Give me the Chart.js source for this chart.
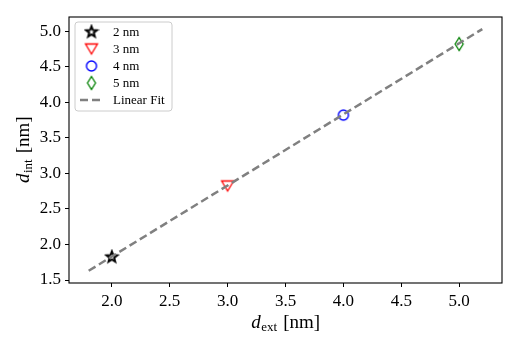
<!DOCTYPE html>
<html>
<head>
<meta charset="utf-8">
<script src="https://cdn.jsdelivr.net/npm/chart.js@4"></script>
<style>
  html, body { margin: 0; padding: 0; background: #fff; }
  #wrap { width: 519px; height: 346px; }
</style>
</head>
<body>
<div id="wrap"><canvas id="grafico"></canvas></div>
<script>
// datos
const etiquetas = ['2 nm', '3 nm', '4 nm', '5 nm'];
const dExt = [2, 3, 4, 5];
const dInt = [1.83, 2.83, 3.82, 4.82];
const ajusteX = [1.8, 5.2];
const ajusteY = [1.63, 5.03];
const ticksX = [2.0, 2.5, 3.0, 3.5, 4.0, 4.5, 5.0];
const ticksY = [1.5, 2.0, 2.5, 3.0, 3.5, 4.0, 4.5, 5.0];

const colores = ['#000000', '#ff0000', '#0000ff', '#008000'];
const SERIF = '"Liberation Serif", "DejaVu Serif", serif';
const DASH = [8, 4];

// marcadores tipo matplotlib
function crearMarcador(tipo, color) {
    const c = document.createElement('canvas');
    c.width = 16; c.height = 16;
    const ctx = c.getContext('2d');
    ctx.strokeStyle = color;
    ctx.lineJoin = 'miter';
    ctx.beginPath();
    if (tipo === 'star') {
        ctx.lineWidth = 2;
        for (let i = 0; i < 10; i++) {
            const r = i % 2 === 0 ? 5.6 : 2.4;
            const a = -Math.PI / 2 + i * Math.PI / 5;
            const px = 8 + r * Math.cos(a), py = 8.5 + r * Math.sin(a);
            if (i === 0) ctx.moveTo(px, py); else ctx.lineTo(px, py);
        }
    } else if (tipo === 'tri') {
        ctx.lineWidth = 1.3;
        ctx.moveTo(2, 3.5); ctx.lineTo(14, 3.5); ctx.lineTo(8, 13.5);
    } else if (tipo === 'circ') {
        ctx.lineWidth = 1.4;
        ctx.arc(8, 8, 5, 0, Math.PI * 2);
    } else {
        ctx.lineWidth = 1.3;
        ctx.moveTo(8, 1.5); ctx.lineTo(12, 8); ctx.lineTo(8, 14.5); ctx.lineTo(4, 8);
    }
    ctx.closePath();
    ctx.stroke();
    return c;
}

const marcadores = [
    crearMarcador('star', colores[0]),
    crearMarcador('tri', colores[1]),
    crearMarcador('circ', colores[2]),
    crearMarcador('diam', colores[3])
];

// titulo con subindice
function textoSub(ctx, base, sub, resto, cx, cy) {
    const fBig = 'italic 19px ' + SERIF;
    const fSub = '13px ' + SERIF;
    const fRest = '19px ' + SERIF;
    ctx.font = fBig; const w1 = ctx.measureText(base).width;
    ctx.font = fSub; const w2 = ctx.measureText(sub).width;
    ctx.font = fRest; const w3 = ctx.measureText(resto).width;
    const gap = 6;
    let x = cx - (w1 + w2 + gap + w3) / 2;
    ctx.textBaseline = 'alphabetic';
    ctx.textAlign = 'left';
    ctx.fillStyle = '#000';
    ctx.font = fBig; ctx.fillText(base, x, cy + 6); x += w1 + 0.5;
    ctx.font = fSub; ctx.fillText(sub, x, cy + 9); x += w2 + gap;
    ctx.font = fRest; ctx.fillText(resto, x, cy + 6);
}

const extras = {
    id: 'extras',
    afterDraw(chart) {
        const ctx = chart.ctx;
        const a = chart.chartArea;
        ctx.save();
        // marco
        ctx.strokeStyle = '#000';
        ctx.lineWidth = 1.1;
        ctx.strokeRect(a.left, a.top, a.right - a.left, a.bottom - a.top);

        // titulos de ejes
        textoSub(ctx, 'd', 'ext', '[nm]', (a.left + a.right) / 2, 322);
        ctx.save();
        ctx.translate(23, (a.top + a.bottom) / 2);
        ctx.rotate(-Math.PI / 2);
        textoSub(ctx, 'd', 'int', '[nm]', 0, 0);
        ctx.restore();

        // leyenda
        const lx = 75, ly = 22, lw = 97, lh = 89;
        ctx.beginPath();
        ctx.roundRect(lx, ly, lw, lh, 3);
        ctx.fillStyle = 'rgba(255,255,255,0.8)';
        ctx.fill();
        ctx.strokeStyle = '#cccccc';
        ctx.lineWidth = 1;
        ctx.stroke();
        ctx.font = '13px ' + SERIF;
        ctx.fillStyle = '#000';
        ctx.textBaseline = 'middle';
        ctx.textAlign = 'left';
        const filas = [31.5, 48.5, 66, 83, 100];
        etiquetas.forEach((t, i) => {
            ctx.drawImage(marcadores[i], 91.5 - 8, filas[i] - 8);
            ctx.fillText(t, 113, filas[i] + 1);
        });
        ctx.beginPath();
        ctx.setLineDash(DASH);
        ctx.strokeStyle = '#808080';
        ctx.lineWidth = 2.5;
        ctx.moveTo(80, filas[4]); ctx.lineTo(102, filas[4]);
        ctx.stroke();
        ctx.setLineDash([]);
        ctx.fillText('Linear Fit', 113, filas[4] + 1);
        ctx.restore();
    }
};

const puntos = etiquetas.map((t, i) => ({
    type: 'scatter',
    label: t,
    data: [{ x: dExt[i], y: dInt[i] }],
    pointStyle: marcadores[i],
    pointRadius: 8,
    order: 2
}));

const lineaAjuste = {
    type: 'line',
    label: 'Linear Fit',
    data: ajusteX.map((x, i) => ({ x: x, y: ajusteY[i] })),
    borderColor: '#808080',
    borderWidth: 2.5,
    borderDash: DASH,
    pointRadius: 0,
    fill: false,
    order: 1
};

new Chart(document.getElementById('grafico'), {
    type: 'scatter',
    data: { datasets: [...puntos, lineaAjuste] },
    options: {
        responsive: true,
        maintainAspectRatio: false,
        animation: false,
        layout: { padding: { left: 0, right: 17, top: 17, bottom: 0 } },
        plugins: { legend: { display: false }, tooltip: { enabled: false } },
        scales: {
            x: {
                type: 'linear',
                min: 1.63, max: 5.37,
                afterBuildTicks: s => { s.ticks = ticksX.map(v => ({ value: v })); },
                afterFit: s => { s.height = 63; },
                grid: { drawOnChartArea: false, drawTicks: true, tickLength: 4, tickColor: '#000', tickWidth: 1 },
                border: { display: false },
                ticks: {
                    padding: 4,
                    color: '#000',
                    font: { family: SERIF, size: 17 },
                    callback: v => Number(v).toFixed(1)
                }
            },
            y: {
                type: 'linear',
                min: 1.458, max: 5.2,
                afterBuildTicks: s => { s.ticks = ticksY.map(v => ({ value: v })); },
                afterFit: s => { s.width = 69; },
                grid: { drawOnChartArea: false, drawTicks: true, tickLength: 4, tickColor: '#000', tickWidth: 1 },
                border: { display: false },
                ticks: {
                    padding: 4,
                    color: '#000',
                    font: { family: SERIF, size: 17 },
                    callback: v => Number(v).toFixed(1)
                }
            }
        }
    },
    plugins: [extras]
});
</script>
</body>
</html>
